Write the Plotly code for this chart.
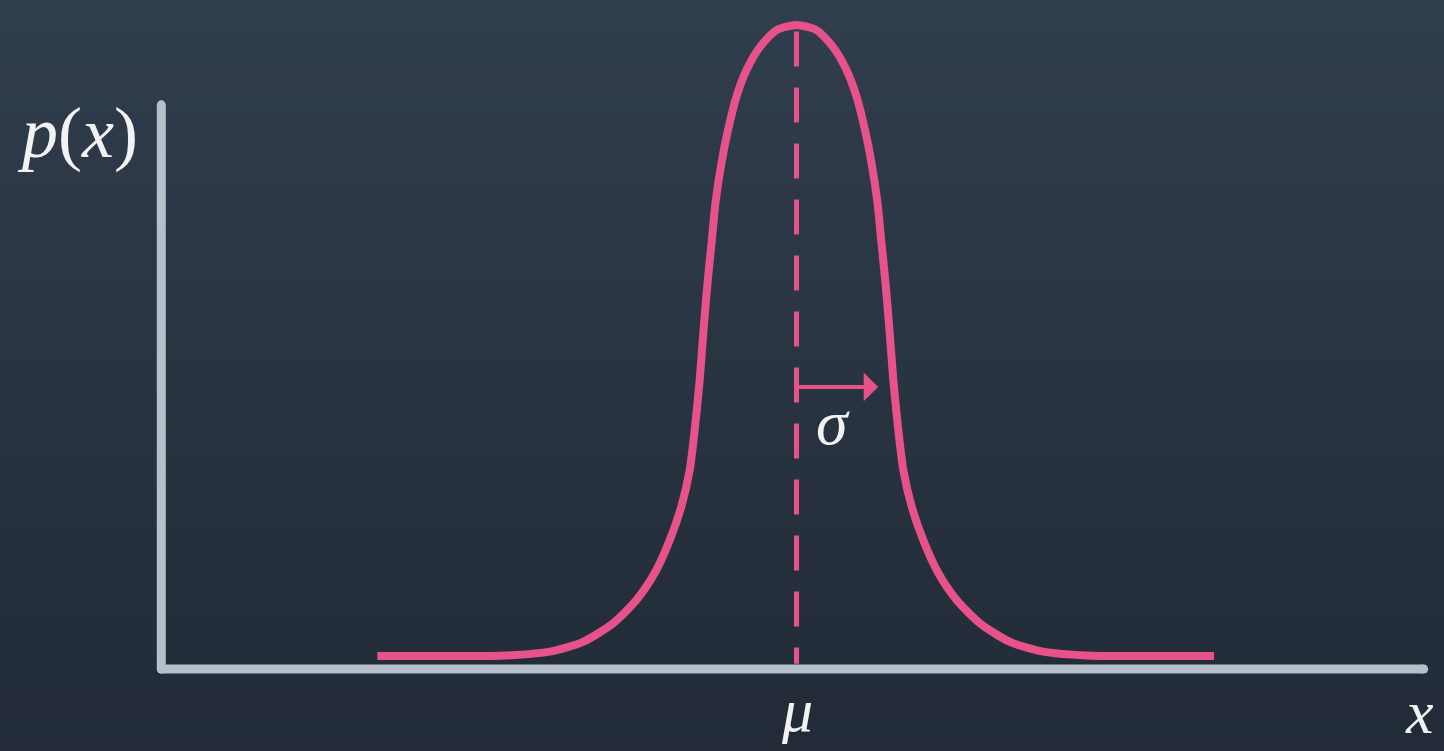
import plotly.graph_objects as go

# ---- data (x in units of sigma, y in units of the peak height) ----
right_x = [0.0, 0.25, 0.456, 0.625, 0.75, 0.856, 0.9375, 1.0125, 1.0625, 1.1125, 1.1625, 1.21,
           1.2725, 1.335, 1.44, 1.585, 1.7725, 2.0025, 2.294, 2.669, 3.081, 3.628, 4.25, 5.22]
right_y = [1.000, 0.992, 0.966, 0.930, 0.889, 0.837, 0.786, 0.724, 0.661, 0.599, 0.526, 0.449,
           0.371, 0.309, 0.252, 0.200, 0.149, 0.107, 0.071, 0.042, 0.027, 0.021, 0.020, 0.020]
left_x = [-5.24, -4.25, -3.628, -3.081, -2.669, -2.294, -2.0025, -1.7725, -1.585, -1.44, -1.335,
          -1.2725, -1.21, -1.1625, -1.1125, -1.0625, -1.0125, -0.9375, -0.856, -0.75, -0.625,
          -0.456, -0.25]
left_y = [0.020, 0.020, 0.021, 0.027, 0.042, 0.071, 0.107, 0.149, 0.200, 0.252, 0.309,
          0.371, 0.449, 0.526, 0.599, 0.661, 0.724, 0.786, 0.837, 0.889, 0.930,
          0.966, 0.992]
curve_x = left_x + right_x
curve_y = left_y + right_y

mu = 0.0
sigma = 1.0
sigma_arrow_y = 0.438
mu_line_top = 0.99

x_axis_x = [-7.94, 7.84]
x_axis_y = [0.0, 0.0]
y_axis_x = [-7.94, -7.94]
y_axis_y = [0.0, 0.876]

labels = {"y": "<i>p</i>(<i>x</i>)", "x": "<i>x</i>", "mu": "<i>μ</i>", "sigma": "<i>σ</i>"}

PINK = "#e8528a"
AXIS = "#b6c0ca"
TEXT = "#f2f2f2"
FONT = "Liberation Serif"

fig = go.Figure()

# background gradient bands (paper coordinates)
top = (48, 61, 76)
bot = (34, 43, 55)
n = 40
shapes = []
for i in range(n):
    t = i / (n - 1)
    c = tuple(round(top[k] + (bot[k] - top[k]) * t) for k in range(3))
    shapes.append(dict(type="rect", xref="paper", yref="paper",
                       x0=0, x1=1, y1=1 - i / n, y0=1 - (i + 1) / n - 0.002,
                       fillcolor="rgb(%d,%d,%d)" % c, line=dict(width=0), layer="below"))

# axes
for ax_x, ax_y in ((x_axis_x, x_axis_y), (y_axis_x, y_axis_y)):
    fig.add_trace(go.Scatter(x=ax_x, y=ax_y, mode="lines+markers",
                             line=dict(color=AXIS, width=9), marker=dict(color=AXIS, size=9),
                             hoverinfo="skip"))

# mean dashed line
fig.add_trace(go.Scatter(x=[mu, mu], y=[mu_line_top, 0.008], mode="lines",
                         line=dict(color=PINK, width=5, dash="35px,21px"),
                         hoverinfo="skip"))

# curve
fig.add_trace(go.Scatter(x=curve_x, y=curve_y, mode="lines",
                         line=dict(color=PINK, width=8, shape="spline", smoothing=0.7),
                         hoverinfo="skip"))

annotations = [
    # sigma arrow
    dict(x=mu + sigma * 1.02, y=sigma_arrow_y, ax=mu, ay=sigma_arrow_y,
         xref="x", yref="y", axref="x", ayref="y", text="", showarrow=True,
         arrowhead=1, arrowsize=1.2, arrowwidth=4, arrowcolor=PINK, standoff=0, startstandoff=0),
    dict(x=0.456, y=0.382, xref="x", yref="y", text=labels["sigma"], showarrow=False,
         font=dict(family=FONT, size=64, color=TEXT)),
    dict(x=0.006, y=-0.064, xref="x", yref="y", text=labels["mu"], showarrow=False,
         font=dict(family=FONT, size=62, color=TEXT)),
    dict(x=7.79, y=-0.066, xref="x", yref="y", text=labels["x"], showarrow=False,
         font=dict(family=FONT, size=62, color=TEXT)),
    dict(x=-8.99, y=0.832, xref="x", yref="y", text=labels["y"], showarrow=False,
         font=dict(family=FONT, size=72, color=TEXT)),
]

fig.update_layout(
    width=1444, height=751,
    margin=dict(l=0, r=0, t=0, b=0),
    paper_bgcolor="#2a3542", plot_bgcolor="rgba(0,0,0,0)",
    showlegend=False,
    shapes=shapes,
    annotations=annotations,
    xaxis=dict(range=[-796.5 / 80, (1444 - 796.5) / 80], visible=False, fixedrange=True),
    yaxis=dict(range=[(669 - 751) / 644, 669 / 644], visible=False, fixedrange=True),
)

fig.write_html(
    "out.html",
    config={"displayModeBar": False},
    post_script="document.body.style.margin='0';document.body.style.overflow='hidden';",
)
